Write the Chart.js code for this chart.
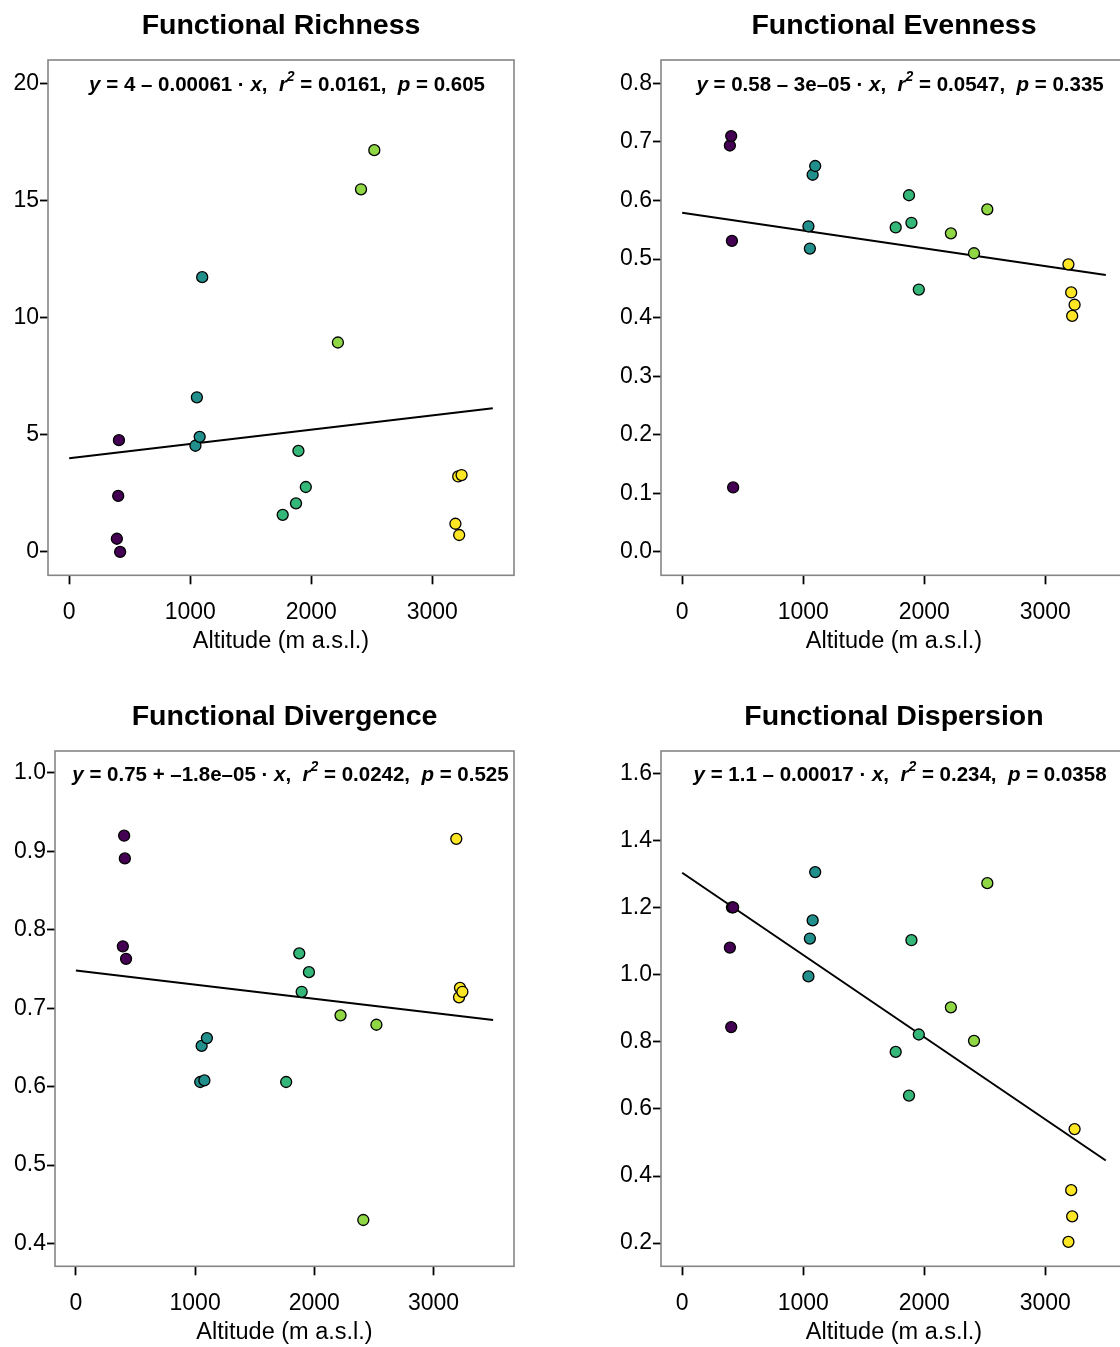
<!DOCTYPE html>
<html>
<head>
<meta charset="utf-8">
<title>Functional diversity along altitude</title>
<script src="https://cdn.jsdelivr.net/npm/chart.js@4.4.1/dist/chart.umd.min.js"></script>
<style>
  html, body { margin: 0; padding: 0; background: #fff; }
  body { position: relative; width: 1120px; height: 1347px; overflow: hidden; }
  canvas { position: absolute; }
</style>
</head>
<body>
<canvas id="fric"></canvas>
<canvas id="feve"></canvas>
<canvas id="fdiv"></canvas>
<canvas id="fdis"></canvas>
<script>
// ---- data -------------------------------------------------------------
// 19 sites: altitude (m a.s.l.) and altitude band (index into bandColors)
const altitude = [394, 405, 411, 421, 1043, 1055, 1078, 1099, 1764, 1874, 1894, 1955, 2220, 2411, 2521, 3191, 3214, 3222, 3242];
const band     = [0, 0, 0, 0, 1, 1, 1, 1, 2, 2, 2, 2, 3, 3, 3, 4, 4, 4, 4];
const bandColors = ['#440154', '#21908C', '#35B779', '#8FD744', '#FDE725'];

const richness   = [0.56, 2.39, 4.77, 0.0, 4.53, 6.6, 4.91, 11.73, 1.58, 2.07, 4.31, 2.77, 8.94, 15.48, 17.15, 1.2, 3.22, 0.72, 3.28];
const evenness   = [0.694, 0.710, 0.531, 0.110, 0.556, 0.518, 0.644, 0.659, 0.554, 0.609, 0.562, 0.448, 0.544, 0.510, 0.585, 0.491, 0.443, 0.403, 0.422];
const divergence = [0.779, 0.920, 0.891, 0.763, 0.606, 0.652, 0.608, 0.662, 0.606, 0.770, 0.721, 0.746, 0.691, 0.430, 0.679, 0.916, 0.714, 0.726, 0.721];
const dispersion = [1.081, 0.844, 1.201, 1.201, 0.995, 1.108, 1.162, 1.306, 0.770, 0.640, 1.103, 0.822, 0.903, 0.803, 1.273, 0.204, 0.358, 0.280, 0.540];

const titles = ['Functional Richness', 'Functional Evenness', 'Functional Divergence', 'Functional Dispersion'];

// fitted lm lines, drawn over the altitude span
const fitIntercept = [4.0, 0.579, 0.748, 1.304];
const fitSlope     = [0.00061, -0.0000303, -0.000018, -0.000245];
const fitSpan      = [0, 3500];

// regression labels
const eqCoef = ['4 – 0.00061', '0.58 – 3e–05', '0.75 + –1.8e–05', '1.1 – 0.00017'];
const eqR2   = ['0.0161', '0.0547', '0.0242', '0.234'];
const eqP    = ['0.605', '0.335', '0.525', '0.0358'];
const eqAt   = 1800;

// axes
const xTickLabels = ['0', '1000', '2000', '3000'];
const xLimits = [-175, 3675];
const yTickLabels = [
  ['0', '5', '10', '15', '20'],
  ['0.0', '0.1', '0.2', '0.3', '0.4', '0.5', '0.6', '0.7', '0.8'],
  ['0.4', '0.5', '0.6', '0.7', '0.8', '0.9', '1.0'],
  ['0.2', '0.4', '0.6', '0.8', '1.0', '1.2', '1.4', '1.6']
];
const yLimits = [[-1, 21], [-0.04, 0.84], [0.371, 1.028], [0.131, 1.667]];

const series = [richness, evenness, divergence, dispersion];

// ---- layout -------------------------------------------------------------
const panels = [
  { id: 'fric', left: 0,   top: 0,   width: 572, yAxisW: 48, padRight: 58 },
  { id: 'feve', left: 612, top: 0,   width: 564, yAxisW: 49, padRight: 49 },
  { id: 'fdiv', left: 0,   top: 691, width: 578, yAxisW: 55, padRight: 64 },
  { id: 'fdis', left: 612, top: 691, width: 564, yAxisW: 49, padRight: 49 }
];
const PANEL_H = 660;
const FONT = '"Liberation Sans", Arial, Helvetica, sans-serif';

// grey frame round the plotting region
const panelFrame = {
  id: 'panelFrame',
  beforeDatasetsDraw(chart) {
    const { ctx, chartArea: a } = chart;
    ctx.save();
    ctx.strokeStyle = '#858585';
    ctx.lineWidth = 1.6;
    ctx.strokeRect(a.left, a.top, a.right - a.left, a.bottom - a.top);
    ctx.restore();
  }
};

// "y = a + b·x, r² = .., p = .." label, centred at (eqAt, top y tick)
const regLabel = {
  id: 'regLabel',
  afterDatasetsDraw(chart, args, opts) {
    const i = opts.panel;
    const { ctx } = chart;
    const xs = chart.scales.x, ys = chart.scales.y;
    const labels = yTickLabels[i];
    const cx = xs.getPixelForValue(eqAt);
    const cy = ys.getPixelForValue(parseFloat(labels[labels.length - 1])) + 2;
    const size = 20.5;
    const bold = 'bold ' + size + 'px ' + FONT;
    const ital = 'italic bold ' + size + 'px ' + FONT;
    const sup = 'italic bold ' + Math.round(size * 0.7) + 'px ' + FONT;
    const parts = [
      ['y', ital], [' = ' + eqCoef[i] + ' · ', bold], ['x', ital], [',  ', bold],
      ['r', ital], ['2', sup, -8], [' = ' + eqR2[i] + ',  ', bold],
      ['p', ital], [' = ' + eqP[i], bold]
    ];
    ctx.save();
    ctx.fillStyle = '#000';
    ctx.textBaseline = 'middle';
    ctx.textAlign = 'left';
    let total = 0;
    parts.forEach(p => { ctx.font = p[1]; total += ctx.measureText(p[0]).width; });
    let x = cx - total / 2;
    parts.forEach(p => {
      ctx.font = p[1];
      ctx.fillText(p[0], x, cy + (p[2] || 0));
      x += ctx.measureText(p[0]).width;
    });
    ctx.restore();
  }
};

function makePanel(i) {
  const p = panels[i];
  const canvas = document.getElementById(p.id);
  canvas.width = p.width;
  canvas.height = PANEL_H;
  canvas.style.left = p.left + 'px';
  canvas.style.top = p.top + 'px';

  const points = altitude.map((a, k) => ({ x: a, y: series[i][k] }));
  const fit = fitSpan.map(x => ({ x: x, y: fitIntercept[i] + fitSlope[i] * x }));

  return new Chart(canvas, {
    type: 'scatter',
    data: {
      datasets: [
        {
          data: points,
          backgroundColor: band.map(b => bandColors[b]),
          borderColor: '#000',
          borderWidth: 1.3,
          pointRadius: 5.5,
          order: 0
        },
        {
          type: 'line',
          data: fit,
          borderColor: '#000',
          borderWidth: 2,
          pointRadius: 0,
          fill: false,
          order: 1
        }
      ]
    },
    options: {
      responsive: false,
      animation: false,
      layout: { padding: { left: 0, right: p.padRight, top: 0, bottom: 0 } },
      plugins: {
        legend: { display: false },
        tooltip: { enabled: false },
        title: {
          display: true,
          text: titles[i],
          fullSize: false,
          color: '#000',
          font: { family: FONT, size: 28.5, weight: 'bold' },
          padding: { top: 9, bottom: 16.8 }
        },
        regLabel: { panel: i }
      },
      scales: {
        x: {
          type: 'linear',
          min: xLimits[0],
          max: xLimits[1],
          afterBuildTicks: ax => { ax.ticks = xTickLabels.map(t => ({ value: parseFloat(t) })); },
          afterFit: ax => { ax.height = 84.7; },
          ticks: {
            color: '#000',
            font: { family: FONT, size: 23 },
            padding: 15,
            maxRotation: 0,
            autoSkip: false,
            callback: (v, idx) => xTickLabels[idx]
          },
          grid: { drawOnChartArea: false, drawTicks: true, tickLength: 9, tickColor: '#000', tickWidth: 1.8 },
          border: { display: false },
          title: {
            display: true,
            text: 'Altitude (m a.s.l.)',
            color: '#000',
            font: { family: FONT, size: 23.5 },
            padding: { top: 0, bottom: 4 }
          }
        },
        y: {
          type: 'linear',
          min: yLimits[i][0],
          max: yLimits[i][1],
          afterBuildTicks: ax => { ax.ticks = yTickLabels[i].map(t => ({ value: parseFloat(t) })); },
          afterFit: ax => { ax.width = p.yAxisW; },
          ticks: {
            color: '#000',
            font: { family: FONT, size: 23 },
            padding: 1,
            autoSkip: false,
            callback: (v, idx) => yTickLabels[i][idx]
          },
          grid: { drawOnChartArea: false, drawTicks: true, tickLength: 8, tickColor: '#000', tickWidth: 1.8 },
          border: { display: false }
        }
      }
    },
    plugins: [panelFrame, regLabel]
  });
}

panels.forEach((p, i) => makePanel(i));
</script>
</body>
</html>
